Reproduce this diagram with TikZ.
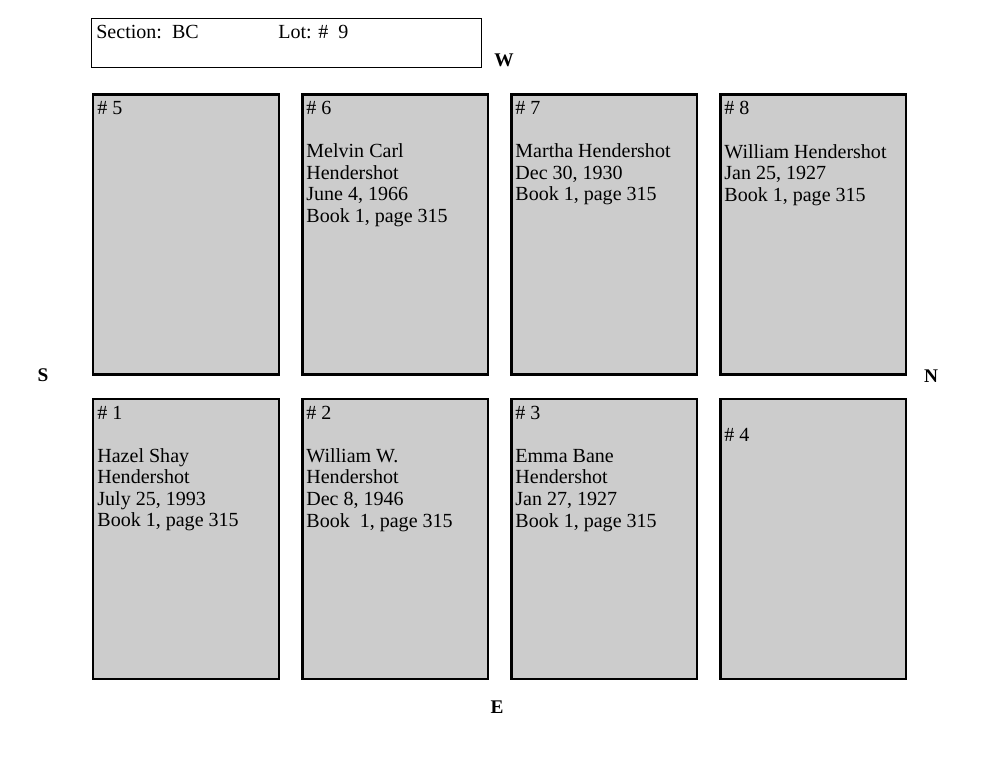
\documentclass[tikz,border=0pt]{standalone}
\usepackage{fontspec}
\setmainfont{Liberation Serif}
\usetikzlibrary{positioning}
\definecolor{plotgray}{RGB}{204,204,204}
\tikzset{
  plotbox/.style={draw, line width=1.4pt, fill=plotgray, inner sep=0pt,
    minimum width=3.71cm, minimum height=5.6cm},
  plottext/.style={anchor=north west, inner sep=0pt, align=left,
    font=\fontsize{11.4pt}{12.25pt}\selectfont},
  compass/.style={inner sep=0pt, font=\fontsize{11pt}{12pt}\selectfont\bfseries},
}
\begin{document}
\begin{tikzpicture}[x=0.02cm, y=-0.02cm]
  \useasboundingbox (0,0) rectangle (1000,773);

  % Header
  \node[draw, line width=0.7pt, inner sep=0pt, minimum width=7.8cm, minimum height=0.98cm] (secbox) at (286.5,43) {};
  \node[plottext, anchor=base west] (section) at (96,39) {Section:~~BC};
  \node[plottext, anchor=base west] (lot) at (278,39) {Lot: \#~~9};

  % Compass
  \node[compass] (W) at (504,60) {W};
  \node[compass] (S) at (43,375) {S};
  \node[compass] (N) at (931,376) {N};
  \node[compass] (E) at (497,707) {E};

  % Plots, west row
  \node[plotbox] (p5) at (186,234.5) {};
  \node[plotbox] (p6) at (395,234.5) {};
  \node[plotbox] (p7) at (604,234.5) {};
  \node[plotbox] (p8) at (813,234.5) {};

  % Plots, east row
  \node[plotbox] (p1) at (186,539) {};
  \node[plotbox] (p2) at (395,539) {};
  \node[plotbox] (p3) at (604,539) {};
  \node[plotbox] (p4) at (813,539) {};

  % Labels
  \node[plottext] (t5) at ([shift={(5,8)}]p5.north west) {\# 5};
  \node[plottext] (t6) at ([shift={(5,8)}]p6.north west)
    {\# 6\\[12.25pt]Melvin Carl\\Hendershot\\June 4, 1966\\Book 1, page 315};
  \node[plottext] (t7) at ([shift={(5,8)}]p7.north west)
    {\# 7\\[12.25pt]Martha Hendershot\\Dec 30, 1930\\Book 1, page 315};
  \node[plottext] (t8) at ([shift={(5,8)}]p8.north west)
    {\# 8\\[12.25pt]William Hendershot\\Jan 25, 1927\\Book 1, page 315};
  \node[plottext] (t1) at ([shift={(5,8)}]p1.north west)
    {\# 1\\[12.25pt]Hazel Shay\\Hendershot\\July 25, 1993\\Book 1, page 315};
  \node[plottext] (t2) at ([shift={(5,8)}]p2.north west)
    {\# 2\\[12.25pt]William W.\\Hendershot\\Dec 8, 1946\\Book~~1, page 315};
  \node[plottext] (t3) at ([shift={(5,8)}]p3.north west)
    {\# 3\\[12.25pt]Emma Bane\\Hendershot\\Jan 27, 1927\\Book 1, page 315};
  \node[plottext] (t4) at ([shift={(5,30)}]p4.north west) {\# 4};
\end{tikzpicture}
\end{document}
